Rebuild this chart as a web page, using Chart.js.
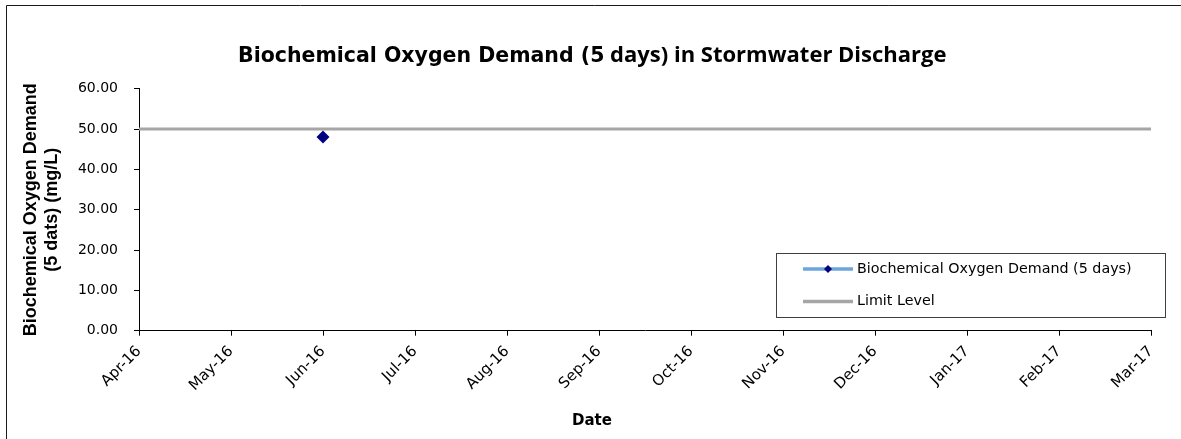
<!DOCTYPE html>
<html>
<head>
<meta charset="utf-8">
<script src="https://cdn.jsdelivr.net/npm/chart.js@4.4.1/dist/chart.umd.min.js"></script>
<style>
  html, body { margin: 0; padding: 0; background: #fff; }
  #wrap { width: 1181px; height: 439px; }
</style>
</head>
<body>
<div id="wrap"><canvas id="c" width="1181" height="439"></canvas></div>
<script>
// ---- data ----
const months = ['Apr-16','May-16','Jun-16','Jul-16','Aug-16','Sep-16','Oct-16','Nov-16','Dec-16','Jan-17','Feb-17','Mar-17'];
const bodValues = [null, null, 48, null, null, null, null, null, null, null, null, null];
const limitValues = [50, 50, 50, 50, 50, 50, 50, 50, 50, 50, 50, 50];
const seriesNames = ['Biochemical Oxygen Demand (5 days)', 'Limit Level'];
const titleParts = ['Biochemical Oxygen Demand (5', ' days) in Stormwater Discharge'];
const yTitleLines = ['Biochemical Oxygen Demand', '(5 dats) (mg/L)'];
const xTitle = 'Date';
const yMin = 0, yMax = 60, yStep = 10;

// ---- styles ----
const BOD_LINE = '#6CA6DC';
const BOD_MARK = '#000080';
const LIMIT = '#A6A6A6';

const decor = {
  id: 'decor',
  afterDraw(chart) {
    const ctx = chart.ctx;
    ctx.save();
    // outer border (left and top visible)
    ctx.strokeStyle = '#1a1a1a';
    ctx.lineWidth = 1;
    ctx.beginPath();
    ctx.moveTo(6.5, 460); ctx.lineTo(6.5, 5.5); ctx.lineTo(1200, 5.5);
    ctx.stroke();

    // main title in two fonts
    ctx.fillStyle = '#000';
    ctx.textBaseline = 'alphabetic';
    ctx.textAlign = 'left';
    let x = 238;
    ctx.font = 'bold 20.5px "DejaVu Sans"';
    ctx.fillText(titleParts[0], x, 62);
    x += ctx.measureText(titleParts[0]).width;
    ctx.font = 'bold 22px "Open Sans"';
    ctx.fillText(titleParts[1], x, 62);

    // x axis title
    ctx.font = 'bold 15px "DejaVu Sans"';
    ctx.textAlign = 'center';
    ctx.fillText(xTitle, 592, 425);

    // legend
    const lx = 776, ly = 253, lw = 390, lh = 65;
    ctx.fillStyle = '#fff';
    ctx.fillRect(lx, ly, lw, lh);
    ctx.strokeStyle = '#404040';
    ctx.strokeRect(lx + 0.5, ly + 0.5, lw - 1, lh - 1);
    const rows = [269, 301.5];
    chart.data.datasets.forEach((ds, i) => {
      const y = rows[i];
      ctx.strokeStyle = ds.borderColor;
      ctx.lineWidth = 3.5;
      ctx.beginPath();
      ctx.moveTo(803, y); ctx.lineTo(853, y);
      ctx.stroke();
      if (ds.pointRadius > 0) {
        ctx.fillStyle = ds.pointBackgroundColor;
        ctx.beginPath();
        ctx.moveTo(828, y - 4); ctx.lineTo(832, y); ctx.lineTo(828, y + 4); ctx.lineTo(824, y);
        ctx.closePath(); ctx.fill();
      }
      ctx.fillStyle = '#000';
      ctx.font = '14.3px "DejaVu Sans"';
      ctx.textAlign = 'left';
      ctx.textBaseline = 'middle';
      ctx.fillText(ds.label, 857, y);
    });
    ctx.restore();
  }
};

new Chart(document.getElementById('c'), {
  type: 'line',
  data: {
    labels: months,
    datasets: [
      {
        label: seriesNames[0],
        data: bodValues,
        borderColor: BOD_LINE,
        backgroundColor: BOD_LINE,
        borderWidth: 3,
        pointStyle: 'rectRot',
        pointRadius: 6.5,
        pointBackgroundColor: BOD_MARK,
        pointBorderColor: BOD_MARK,
        pointBorderWidth: 0,
        spanGaps: false,
        order: 0
      },
      {
        label: seriesNames[1],
        data: limitValues,
        borderColor: LIMIT,
        backgroundColor: LIMIT,
        borderWidth: 3,
        pointRadius: 0,
        order: 1
      }
    ]
  },
  options: {
    responsive: false,
    animation: false,
    devicePixelRatio: 1,
    layout: { padding: { top: 88.7, right: 30, bottom: 0, left: 0 } },
    plugins: {
      legend: { display: false },
      title: { display: false },
      tooltip: { enabled: false }
    },
    scales: {
      x: {
        type: 'category',
        offset: false,
        grid: { drawOnChartArea: false, drawTicks: true, tickLength: 5, color: '#000', offset: false },
        border: { display: true, color: '#000', width: 1 },
        ticks: {
          autoSkip: false, minRotation: 45, maxRotation: 45,
          color: '#000', font: { family: '"DejaVu Sans"', size: 15 }, padding: 7
        },
        afterFit(s) { s.height = 108.3; }
      },
      y: {
        min: yMin, max: yMax,
        grid: { drawOnChartArea: false, drawTicks: true, tickLength: 5, color: '#000' },
        border: { display: true, color: '#000', width: 1 },
        ticks: {
          stepSize: yStep, color: '#000', font: { family: '"DejaVu Sans"', size: 14 }, padding: 16,
          callback: v => Number(v).toFixed(2)
        },
        title: {
          display: true, text: yTitleLines, color: '#000',
          font: { family: '"Liberation Sans"', size: 18, weight: 'bold', lineHeight: 1.17 },
          padding: { top: 20.5, bottom: 0 }
        },
        afterFit(s) { s.width = 139; }
      }
    }
  },
  plugins: [decor]
});
</script>
</body>
</html>
